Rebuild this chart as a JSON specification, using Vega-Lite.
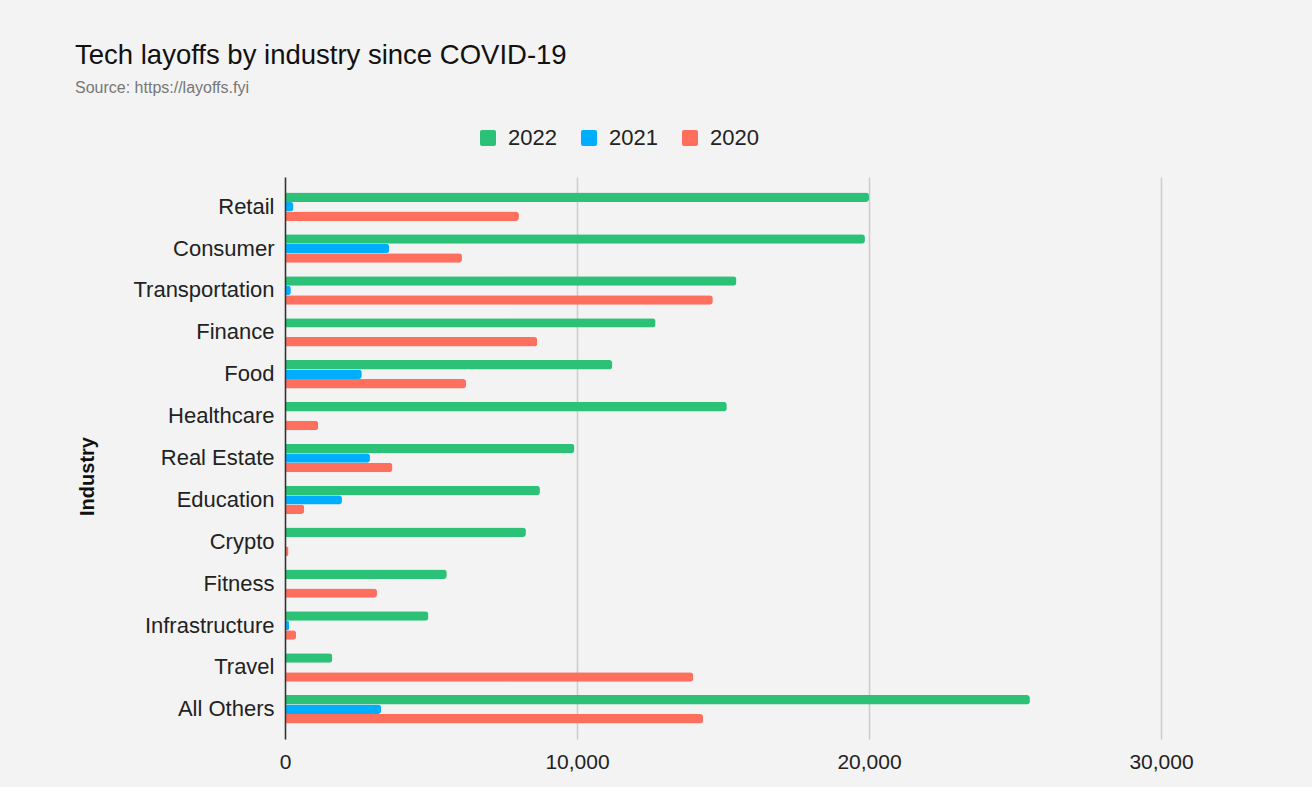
{
  "$schema": "https://vega.github.io/schema/vega-lite/v6.json",
  "width": 1022,
  "height": 562,
  "autosize": {"type": "none"},
  "padding": {"left": 285, "top": 177, "right": 5, "bottom": 48},
  "background": "#f3f3f3",
  "title": {
    "text": "Tech layoffs by industry since COVID-19",
    "subtitle": "Source: https://layoffs.fyi",
    "anchor": "start",
    "frame": "group",
    "dx": -210,
    "dy": -27,
    "font": "Liberation Sans",
    "fontSize": 27.5,
    "fontWeight": "normal",
    "color": "#111111",
    "subtitleFont": "Liberation Sans",
    "subtitleFontSize": 16,
    "subtitleColor": "#777777",
    "subtitlePadding": 11
  },
  "config": {
    "view": {"stroke": null},
    "font": "Liberation Sans"
  },
  "data": {
    "values": [
      {"industry": "Retail", "year": "2022", "value": 20000},
      {"industry": "Retail", "year": "2021", "value": 290},
      {"industry": "Retail", "year": "2020", "value": 8010},
      {"industry": "Consumer", "year": "2022", "value": 19860},
      {"industry": "Consumer", "year": "2021", "value": 3570},
      {"industry": "Consumer", "year": "2020", "value": 6060},
      {"industry": "Transportation", "year": "2022", "value": 15460},
      {"industry": "Transportation", "year": "2021", "value": 200},
      {"industry": "Transportation", "year": "2020", "value": 14650},
      {"industry": "Finance", "year": "2022", "value": 12690},
      {"industry": "Finance", "year": "2020", "value": 8640},
      {"industry": "Food", "year": "2022", "value": 11210},
      {"industry": "Food", "year": "2021", "value": 2630},
      {"industry": "Food", "year": "2020", "value": 6200},
      {"industry": "Healthcare", "year": "2022", "value": 15130},
      {"industry": "Healthcare", "year": "2020", "value": 1140},
      {"industry": "Real Estate", "year": "2022", "value": 9910},
      {"industry": "Real Estate", "year": "2021", "value": 2910},
      {"industry": "Real Estate", "year": "2020", "value": 3680},
      {"industry": "Education", "year": "2022", "value": 8730},
      {"industry": "Education", "year": "2021", "value": 1950},
      {"industry": "Education", "year": "2020", "value": 660},
      {"industry": "Crypto", "year": "2022", "value": 8250},
      {"industry": "Crypto", "year": "2020", "value": 120},
      {"industry": "Fitness", "year": "2022", "value": 5540},
      {"industry": "Fitness", "year": "2020", "value": 3150},
      {"industry": "Infrastructure", "year": "2022", "value": 4910},
      {"industry": "Infrastructure", "year": "2021", "value": 140},
      {"industry": "Infrastructure", "year": "2020", "value": 380},
      {"industry": "Travel", "year": "2022", "value": 1620},
      {"industry": "Travel", "year": "2020", "value": 13980},
      {"industry": "All Others", "year": "2022", "value": 25510},
      {"industry": "All Others", "year": "2021", "value": 3290},
      {"industry": "All Others", "year": "2020", "value": 14320}
    ]
  },
  "mark": {"type": "bar", "cornerRadiusEnd": 3},
  "encoding": {
    "y": {
      "field": "industry",
      "type": "nominal",
      "sort": ["Retail", "Consumer", "Transportation", "Finance", "Food", "Healthcare", "Real Estate", "Education", "Crypto", "Fitness", "Infrastructure", "Travel", "All Others"],
      "scale": {"paddingInner": 0.32, "paddingOuter": 0.37},
      "axis": {
        "title": "Industry",
        "titleFont": "Liberation Sans",
        "titleFontSize": 20,
        "titleFontWeight": "bold",
        "titleColor": "#111111",
        "titleX": -192,
        "titleY": 299,
        "titleAngle": -90,
        "titleAlign": "center",
        "titleBaseline": "alphabetic",
        "labelFontSize": 22,
        "labelColor": "#222222",
        "labelPadding": 11,
        "ticks": false,
        "domainColor": "#333333",
        "domainWidth": 1.5,
        "grid": false,
        "zindex": 1
      }
    },
    "yOffset": {
      "field": "year",
      "type": "nominal",
      "sort": ["2022", "2021", "2020"],
      "scale": {"paddingInner": 0, "paddingOuter": 0}
    },
    "x": {
      "field": "value",
      "type": "quantitative",
      "scale": {"domain": [0, 35000], "nice": false},
      "axis": {
        "values": [0, 10000, 20000, 30000],
        "format": ",d",
        "grid": true,
        "gridColor": "#cccccc",
        "gridWidth": 1.5,
        "domain": false,
        "ticks": false,
        "labelFlush": false,
        "labelFontSize": 21,
        "labelColor": "#222222",
        "labelPadding": 12,
        "title": null
      }
    },
    "color": {
      "field": "year",
      "type": "nominal",
      "scale": {"domain": ["2022", "2021", "2020"], "range": ["#2bc177", "#00aeff", "#ff6f5e"]},
      "legend": {
        "orient": "none",
        "legendX": 192,
        "legendY": -50,
        "direction": "horizontal",
        "title": null,
        "symbolType": "M-1,-0.75Q-1,-1,-0.75,-1L0.75,-1Q1,-1,1,-0.75L1,0.75Q1,1,0.75,1L-0.75,1Q-1,1,-1,0.75Z",
        "symbolSize": 256,
        "symbolStrokeWidth": 0,
        "symbolOpacity": 1,
        "labelFontSize": 22,
        "labelColor": "#222222",
        "labelOffset": 9,
        "columnPadding": 21
      }
    }
  }
}
